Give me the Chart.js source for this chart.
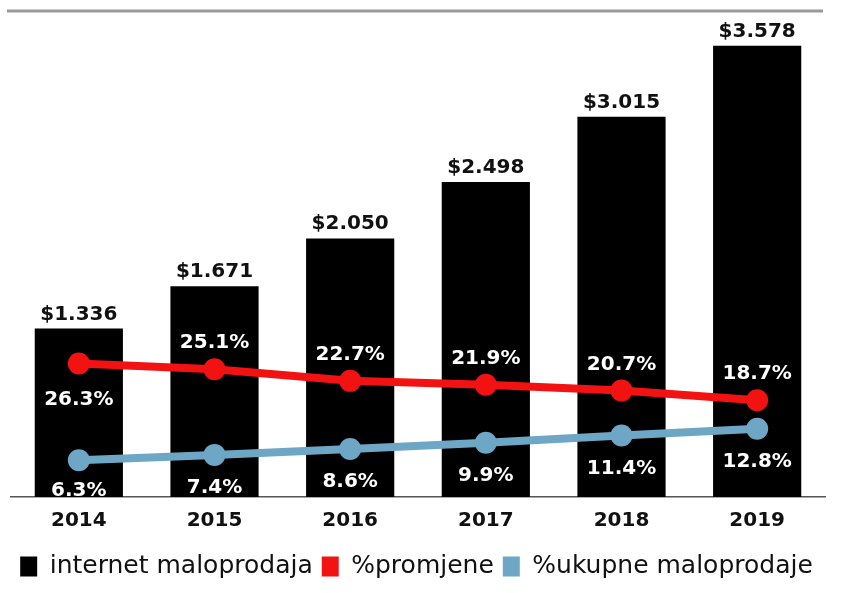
<!DOCTYPE html>
<html>
<head>
<meta charset="utf-8">
<script src="https://cdn.jsdelivr.net/npm/chart.js@4"></script>
<style>
  html, body { margin: 0; padding: 0; background: #fff; }
  #wrap { width: 842px; height: 593px; }
</style>
</head>
<body>
<div id="wrap"><canvas id="grafico"></canvas></div>
<script>
// podaci
var godine = ['2014', '2015', '2016', '2017', '2018', '2019'];
var maloprodaja = [1.336, 1.671, 2.050, 2.498, 3.015, 3.578];
var promjena = [26.3, 25.1, 22.7, 21.9, 20.7, 18.7];
var udio = [6.3, 7.4, 8.6, 9.9, 11.4, 12.8];
var nazivi = ['internet maloprodaja', '%promjene', '%ukupne maloprodaje'];

var boje = ['#000000', '#f21212', '#6ea6c6'];
// gdje ide oznaka crvene linije (ispod / iznad tocke)
var crvenaPoz = ['ispod', 'iznad', 'iznad', 'iznad', 'iznad', 'iznad'];

var oznake = {
  id: 'oznake',
  afterDatasetsDraw: function(chart) {
    var ctx = chart.ctx;
    var dno = chart.chartArea.bottom;
    ctx.save();
    ctx.font = 'bold 20px "DejaVu Sans"';
    ctx.textAlign = 'center';
    ctx.textBaseline = 'alphabetic';

    // vrijednosti iznad stupaca
    ctx.fillStyle = '#111';
    chart.getDatasetMeta(0).data.forEach(function(el, i) {
      ctx.fillText('$' + maloprodaja[i].toFixed(3), el.x, el.y - 9);
    });

    ctx.fillStyle = '#fff';
    chart.getDatasetMeta(1).data.forEach(function(el, i) {
      var dy = crvenaPoz[i] === 'ispod' ? 35 : -28;
      ctx.fillText(promjena[i].toFixed(1) + '%', el.x, el.y + dy + 7);
    });
    chart.getDatasetMeta(2).data.forEach(function(el, i) {
      var y = Math.min(el.y + 38, dno - 1);
      ctx.fillText(udio[i].toFixed(1) + '%', el.x, y);
    });
    ctx.restore();
  },
  beforeDraw: function(chart) {
    // siva linija na vrhu
    var ctx = chart.ctx;
    ctx.save();
    ctx.strokeStyle = '#9a9a9a';
    ctx.lineWidth = 3;
    ctx.beginPath();
    ctx.moveTo(7, chart.chartArea.top - 3);
    ctx.lineTo(823, chart.chartArea.top - 3);
    ctx.stroke();
    ctx.restore();
  }
};

var ctx = document.getElementById('grafico').getContext('2d');
var graf = new Chart(ctx, {
  type: 'bar',
  data: {
    labels: godine,
    datasets: [{
      label: nazivi[0],
      data: maloprodaja,
      backgroundColor: boje[0],
      barPercentage: 0.65,
      categoryPercentage: 1,
      yAxisID: 'y',
      order: 2
    }, {
      type: 'line',
      label: nazivi[1],
      data: promjena,
      borderColor: boje[1],
      backgroundColor: boje[1],
      borderWidth: 8,
      pointRadius: 11,
      pointBackgroundColor: boje[1],
      pointBorderWidth: 0,
      tension: 0,
      yAxisID: 'y2',
      order: 0
    }, {
      type: 'line',
      label: nazivi[2],
      data: udio,
      borderColor: boje[2],
      backgroundColor: boje[2],
      borderWidth: 8,
      pointRadius: 11,
      pointBackgroundColor: boje[2],
      pointBorderWidth: 0,
      tension: 0,
      yAxisID: 'y2',
      order: 1
    }]
  },
  options: {
    responsive: true,
    maintainAspectRatio: false,
    animation: false,
    layout: { padding: { top: 14, left: 8, right: 17, bottom: 4 } },
    plugins: {
      tooltip: { enabled: false },
      legend: {
        position: 'bottom',
        labels: {
          color: '#111',
          font: { family: '"DejaVu Sans"', size: 25 },
          boxWidth: 17,
          boxHeight: 20,
          padding: 9,
          generateLabels: function(chart) {
            return nazivi.map(function(n, i) {
              return { text: n, fillStyle: boje[i], strokeStyle: boje[i], lineWidth: 0, datasetIndex: i, fontColor: '#111' };
            });
          }
        }
      }
    },
    scales: {
      x: {
        grid: { display: false, drawTicks: false },
        border: { display: true, color: '#555', width: 1.5 },
        ticks: {
          color: '#111',
          padding: 12,
          font: { family: '"DejaVu Sans"', size: 20, weight: 'bold' }
        }
      },
      y: { display: false, min: 0, max: 3.83 },
      y2: { display: false, min: -1.3, max: 98.5, position: 'right' }
    }
  },
  plugins: [oznake]
});
</script>
</body>
</html>
